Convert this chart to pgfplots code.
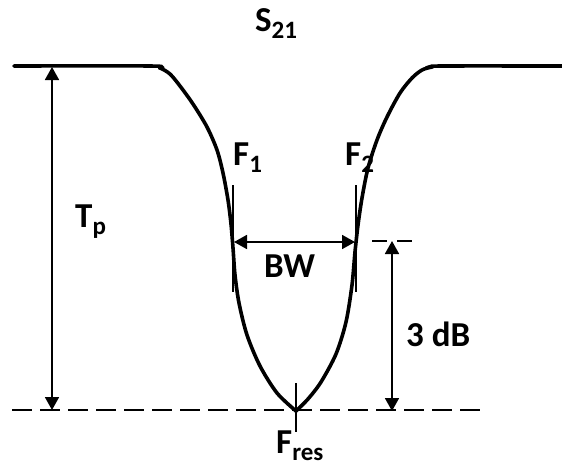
\documentclass[border=0pt]{standalone}
\usepackage{fontspec}
\setmainfont{Carlito}
\usepackage{pgfplots}
\pgfplotsset{compat=1.18}
\usetikzlibrary{arrows.meta}

\newcommand\lbl[2]{{\fontsize{35}{38}\selectfont\bfseries #1\raisebox{-0.2em}{\fontsize{25}{26}\selectfont #2}}}
\tikzset{txt/.style={inner sep=0pt,anchor=base west},
  dim/.style={line width=1.8pt,{Triangle[length=13pt,width=14pt]}-{Triangle[length=13pt,width=14pt]}}}

\begin{document}
\begin{tikzpicture}
  \begin{axis}[width=562pt,height=467pt,scale only axis,hide axis,
      xmin=0,xmax=562,ymin=0,ymax=467,y dir=reverse,clip=false]
    % response curve, left and right halves meet in a cusp at F_res
    \addplot[line width=3.6pt,smooth,tension=0.5,line cap=round] coordinates {
      (14,66) (150,66) (160,68) (170,74) (180,86) (193,104) (207,127) (217,150)
      (223,173) (228,200) (231,224) (233,248) (235,275) (239,303) (247,335)
      (260,366) (277,393) (296,411)};
    \addplot[line width=3.6pt,smooth,tension=0.5,line cap=round] coordinates {
      (296,411) (308,399) (321,382) (336,354) (346,322) (352,285) (355,252)
      (358,225) (362,198) (368,168) (377,140) (387,117) (400,93) (412,78)
      (422,70) (432,67) (442,66) (562,66)};
    % reference lines
    \addplot[line width=2.4pt,dash pattern=on 20pt off 8pt] coordinates {(12,410) (480,410)};
    \addplot[line width=1.6pt,dash pattern=on 15pt off 10pt] coordinates {(372,241) (413,241)};
    % markers at F1, F2, Fres
    \addplot[line width=1.5pt] coordinates {(233,185) (233,292)};
    \addplot[line width=1.5pt] coordinates {(356,185) (356,292)};
    \addplot[line width=1.5pt] coordinates {(296,383) (296,432)};
    % dimension arrows
    \addplot[dim] coordinates {(52,67) (52,410)};
    \addplot[dim] coordinates {(234,242) (355,242)};
    \addplot[dim] coordinates {(392,241) (392,411)};
    % labels
    \node[txt] at (axis cs:255,31) {\lbl{S}{21}};
    \node[txt] at (axis cs:233,165) {\lbl{F}{1}};
    \node[txt] at (axis cs:345,165) {\lbl{F}{2}};
    \node[txt] at (axis cs:75,227) {\lbl{T}{p}};
    \node[txt] at (axis cs:264,277) {\lbl{BW}{}};
    \node[txt] at (axis cs:406,346) {\lbl{3 dB}{}};
    \node[txt] at (axis cs:276,453) {\lbl{F}{res}};
  \end{axis}
  \pgfresetboundingbox
  \path[use as bounding box] (current axis.south west) rectangle (current axis.north east);
\end{tikzpicture}
\end{document}
